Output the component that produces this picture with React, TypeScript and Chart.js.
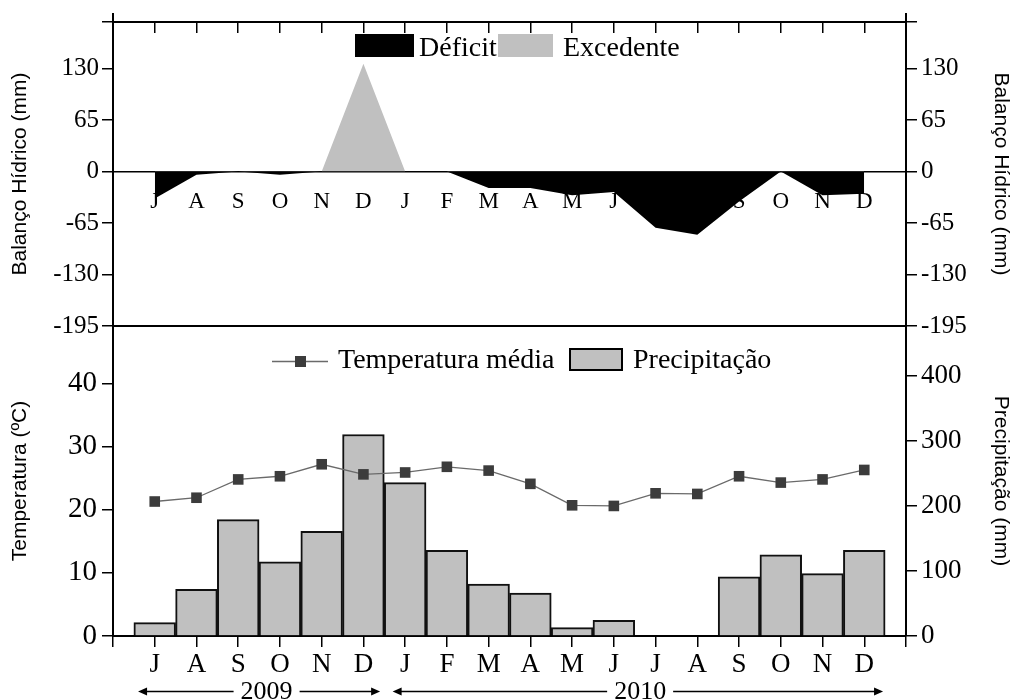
import React, { useEffect, useRef } from 'react';
import { Chart, registerables } from 'chart.js';

Chart.register(...registerables);

// ---------------- data ----------------
const months = ['J', 'A', 'S', 'O', 'N', 'D', 'J', 'F', 'M', 'A', 'M', 'J', 'J', 'A', 'S', 'O', 'N', 'D'];
const balance = [-34, -4, 0, -4, 0, 136, 0, 0, -21, -21, -30, -26, -71, -80, -38, 0, -30, -28];
const temperature = [21.3, 21.9, 24.8, 25.3, 27.2, 25.6, 25.9, 26.8, 26.2, 24.1, 20.7, 20.6, 22.6, 22.5, 25.3, 24.3, 24.8, 26.3];
const precipitation = [20.5, 72, 179, 114, 161, 310, 236, 132, 80, 66, 13, 24, 0, 0, 91, 125, 96, 132];
const balanceTicks = [-195, -130, -65, 0, 65, 130];
const balanceMax = 188.6;
const tempTicks = [0, 10, 20, 30, 40];
const precipTicks = [0, 100, 200, 300, 400];
const years = ['2009', '2010'];
const yearStart = [-0.4, 5.7];
const yearEnd = [5.4, 17.45];
const yearCenter = [2.68, 11.63];

const serif = "'Liberation Serif', 'Times New Roman', serif";
const sans = "'Liberation Sans', Arial, sans-serif";

const monthTickValues = () => months.map((_, i) => ({ value: i }));
const monthLabel = (v: any) => (months[v as number] !== undefined ? months[v as number] : '');
const balanceLabel = (v: any) => (balanceTicks.includes(v as number) ? String(v) : '');

const topLegend = {
  id: 'topLegend',
  afterDraw(chart: any) {
    const ctx = chart.ctx;
    const area = chart.chartArea;
    ctx.save();
    // frame corners extending above the top border
    ctx.strokeStyle = '#000';
    ctx.lineWidth = 2;
    ctx.beginPath();
    ctx.moveTo(area.left, area.top);
    ctx.lineTo(area.left, area.top - 9);
    ctx.moveTo(area.right, area.top);
    ctx.lineTo(area.right, area.top - 9);
    ctx.stroke();
    // legend
    ctx.fillStyle = '#000';
    ctx.fillRect(355, 34, 59, 23);
    ctx.fillStyle = '#c0c0c0';
    ctx.fillRect(498, 34, 55, 23);
    ctx.fillStyle = '#000';
    ctx.font = `28px ${serif}`;
    ctx.textBaseline = 'alphabetic';
    ctx.textAlign = 'left';
    ctx.fillText('Déficit', 419, 56);
    ctx.fillText('Excedente', 563, 56);
    ctx.restore();
  },
};

const bottomDecor = {
  id: 'bottomDecor',
  afterDraw(chart: any) {
    const ctx = chart.ctx;
    ctx.save();
    // legend
    ctx.strokeStyle = '#6a6a6a';
    ctx.lineWidth = 1.3;
    ctx.beginPath();
    ctx.moveTo(272, 61.5);
    ctx.lineTo(328, 61.5);
    ctx.stroke();
    ctx.fillStyle = '#3c3c3c';
    ctx.fillRect(295, 56, 11, 11);
    ctx.fillStyle = '#c0c0c0';
    ctx.fillRect(570, 49, 52, 21);
    ctx.strokeStyle = '#000';
    ctx.lineWidth = 2;
    ctx.strokeRect(570, 49, 52, 21);
    ctx.fillStyle = '#000';
    ctx.font = `28px ${serif}`;
    ctx.textAlign = 'left';
    ctx.textBaseline = 'alphabetic';
    ctx.fillText('Temperatura média', 338, 68);
    ctx.fillText('Precipitação', 633, 68);

    // year annotations
    const xs = chart.scales.x;
    const y = 391.5;
    ctx.font = `26px ${serif}`;
    ctx.textAlign = 'center';
    ctx.textBaseline = 'middle';
    ctx.lineWidth = 1.5;
    ctx.strokeStyle = '#000';
    years.forEach((label, i) => {
      const sx = xs.getPixelForValue(yearStart[i]);
      const ex = xs.getPixelForValue(yearEnd[i]);
      const cx = xs.getPixelForValue(yearCenter[i]);
      const tw = ctx.measureText(label).width;
      ctx.fillText(label, cx, y + 1);
      ctx.beginPath();
      ctx.moveTo(sx + 4, y);
      ctx.lineTo(cx - tw / 2 - 7, y);
      ctx.moveTo(cx + tw / 2 + 7, y);
      ctx.lineTo(ex - 4, y);
      ctx.stroke();
      ctx.beginPath();
      ctx.moveTo(sx, y);
      ctx.lineTo(sx + 9, y - 4);
      ctx.lineTo(sx + 9, y + 4);
      ctx.closePath();
      ctx.fill();
      ctx.beginPath();
      ctx.moveTo(ex, y);
      ctx.lineTo(ex - 9, y - 4);
      ctx.lineTo(ex - 9, y + 4);
      ctx.closePath();
      ctx.fill();
    });
    ctx.restore();
  },
};

export default function App() {
  const topRef = useRef<HTMLCanvasElement>(null);
  const botRef = useRef<HTMLCanvasElement>(null);

  useEffect(() => {
    const top = new Chart(topRef.current as HTMLCanvasElement, {
      type: 'line',
      data: {
        datasets: [
          {
            label: 'Balanço',
            data: months.map((_, i) => ({ x: i, y: balance[i] })),
            xAxisID: 'xz',
            yAxisID: 'y',
            borderColor: 'rgba(0,0,0,0)',
            borderWidth: 1,
            pointRadius: 0,
            tension: 0,
            fill: { target: 'origin', above: '#c0c0c0', below: '#000000' },
          } as any,
        ],
      },
      options: {
        responsive: false,
        animation: false,
        events: [],
        layout: { padding: { top: 22, bottom: 19, left: 0, right: 0 } },
        plugins: { legend: { display: false }, tooltip: { enabled: false } },
        scales: {
          xt: {
            axis: 'x',
            type: 'linear',
            position: 'top',
            min: -1,
            max: 18,
            afterBuildTicks: (s: any) => { s.ticks = monthTickValues(); },
            ticks: { display: false },
            grid: { drawOnChartArea: false, drawTicks: true, tickLength: -11, color: '#000', lineWidth: 1.5 },
            border: { display: true, color: '#000', width: 2 },
            afterFit: (s: any) => { s.height = 0; },
          },
          xz: {
            axis: 'x',
            type: 'linear',
            position: { y: 0 },
            min: -1,
            max: 18,
            afterBuildTicks: (s: any) => { s.ticks = monthTickValues(); },
            ticks: { callback: monthLabel, font: { family: serif, size: 23 }, color: '#000', padding: 17, autoSkip: false, maxRotation: 0 },
            grid: { display: false, drawTicks: false },
            border: { display: true, color: '#000', width: 1.5 },
          },
          xb: {
            axis: 'x',
            type: 'linear',
            position: 'bottom',
            min: -1,
            max: 18,
            ticks: { display: false },
            grid: { display: false, drawTicks: false },
            border: { display: true, color: '#000', width: 2 },
            afterFit: (s: any) => { s.height = 0; },
          },
          y: {
            axis: 'y',
            type: 'linear',
            position: 'left',
            min: -195,
            max: balanceMax,
            afterBuildTicks: (s: any) => { s.ticks = [...balanceTicks, balanceMax].map((v) => ({ value: v })); },
            ticks: { callback: balanceLabel, font: { family: serif, size: 25 }, color: '#000', padding: 3 },
            grid: { drawOnChartArea: false, tickLength: 11, color: '#000', lineWidth: 1.5 },
            border: { display: true, color: '#000', width: 2 },
            title: { display: true, text: 'Balanço Hídrico (mm)', font: { family: sans, size: 21 }, color: '#000', padding: { top: 8, bottom: 0 } },
            afterFit: (s: any) => { s.width = 113; },
          },
          y2: {
            axis: 'y',
            type: 'linear',
            position: 'right',
            min: -195,
            max: balanceMax,
            afterBuildTicks: (s: any) => { s.ticks = [...balanceTicks, balanceMax].map((v) => ({ value: v })); },
            ticks: { callback: balanceLabel, font: { family: serif, size: 25 }, color: '#000', padding: 4 },
            grid: { drawOnChartArea: false, tickLength: 11, color: '#000', lineWidth: 1.5 },
            border: { display: true, color: '#000', width: 2 },
            title: { display: true, text: 'Balanço Hídrico (mm)', font: { family: sans, size: 21 }, color: '#000', padding: { top: 1, bottom: 0 } },
            afterFit: (s: any) => { s.width = 108; },
          },
        } as any,
      },
      plugins: [topLegend],
    });

    const bottom = new Chart(botRef.current as HTMLCanvasElement, {
      type: 'bar',
      data: {
        datasets: [
          {
            type: 'line',
            label: 'Temperatura média',
            data: months.map((_, i) => ({ x: i, y: temperature[i] })),
            xAxisID: 'x',
            yAxisID: 'y',
            borderColor: '#6a6a6a',
            borderWidth: 1.3,
            pointStyle: 'rect',
            pointRadius: 7.5,
            pointBackgroundColor: '#3c3c3c',
            pointBorderColor: '#3c3c3c',
            pointBorderWidth: 0,
            tension: 0,
            order: 0,
          } as any,
          {
            type: 'bar',
            label: 'Precipitação',
            data: months.map((_, i) => ({ x: i, y: precipitation[i] })),
            xAxisID: 'x',
            yAxisID: 'y2',
            backgroundColor: '#c0c0c0',
            borderColor: '#111',
            borderWidth: 2,
            barPercentage: 1,
            categoryPercentage: 1,
            order: 1,
          } as any,
        ],
      },
      options: {
        responsive: false,
        animation: false,
        events: [],
        layout: { padding: { top: 26, bottom: 0, left: 0, right: 0 } },
        plugins: { legend: { display: false }, tooltip: { enabled: false } },
        scales: {
          x: {
            axis: 'x',
            type: 'linear',
            position: 'bottom',
            min: -1,
            max: 18,
            offset: false,
            afterBuildTicks: (s: any) => {
              s.ticks = [{ value: -1 }, ...monthTickValues(), { value: months.length }];
            },
            ticks: { callback: monthLabel, font: { family: serif, size: 27 }, color: '#000', padding: 2, autoSkip: false, maxRotation: 0 },
            grid: { offset: false, drawOnChartArea: false, tickLength: 11, color: '#000', lineWidth: 1.5 },
            border: { display: true, color: '#000', width: 2 },
            afterFit: (s: any) => { s.height = 64; },
          },
          y: {
            axis: 'y',
            type: 'linear',
            position: 'left',
            min: 0,
            max: 49.1,
            afterBuildTicks: (s: any) => { s.ticks = tempTicks.map((v) => ({ value: v })); },
            ticks: { font: { family: serif, size: 29 }, color: '#000', padding: 5 },
            grid: { drawOnChartArea: false, tickLength: 11, color: '#000', lineWidth: 1.5 },
            border: { display: true, color: '#000', width: 2 },
            title: { display: true, text: 'Temperatura (ºC)', font: { family: sans, size: 21 }, color: '#000', padding: { top: 8, bottom: 0 } },
            afterFit: (s: any) => { s.width = 113; },
          },
          y2: {
            axis: 'y',
            type: 'linear',
            position: 'right',
            min: 0,
            max: 477,
            afterBuildTicks: (s: any) => { s.ticks = precipTicks.map((v) => ({ value: v })); },
            ticks: { font: { family: serif, size: 27 }, color: '#000', padding: 4 },
            grid: { drawOnChartArea: false, tickLength: 11, color: '#000', lineWidth: 1.5 },
            border: { display: true, color: '#000', width: 2 },
            title: { display: true, text: 'Precipitação (mm)', font: { family: sans, size: 21 }, color: '#000', padding: { top: 1, bottom: 0 } },
            afterFit: (s: any) => { s.width = 108; },
          },
        } as any,
      },
      plugins: [bottomDecor],
    });

    return () => {
      top.destroy();
      bottom.destroy();
    };
  }, []);

  return (
    <div style={{ position: 'absolute', left: 0, top: 0, width: 1014, height: 700, background: '#fff' }}>
      <div style={{ position: 'absolute', left: 0, top: 0, width: 1014, height: 345 }}>
        <canvas ref={topRef} width={1014} height={345} style={{ display: 'block' }} />
      </div>
      <div style={{ position: 'absolute', left: 0, top: 300, width: 1014, height: 400 }}>
        <canvas ref={botRef} width={1014} height={400} style={{ display: 'block' }} />
      </div>
    </div>
  );
}
